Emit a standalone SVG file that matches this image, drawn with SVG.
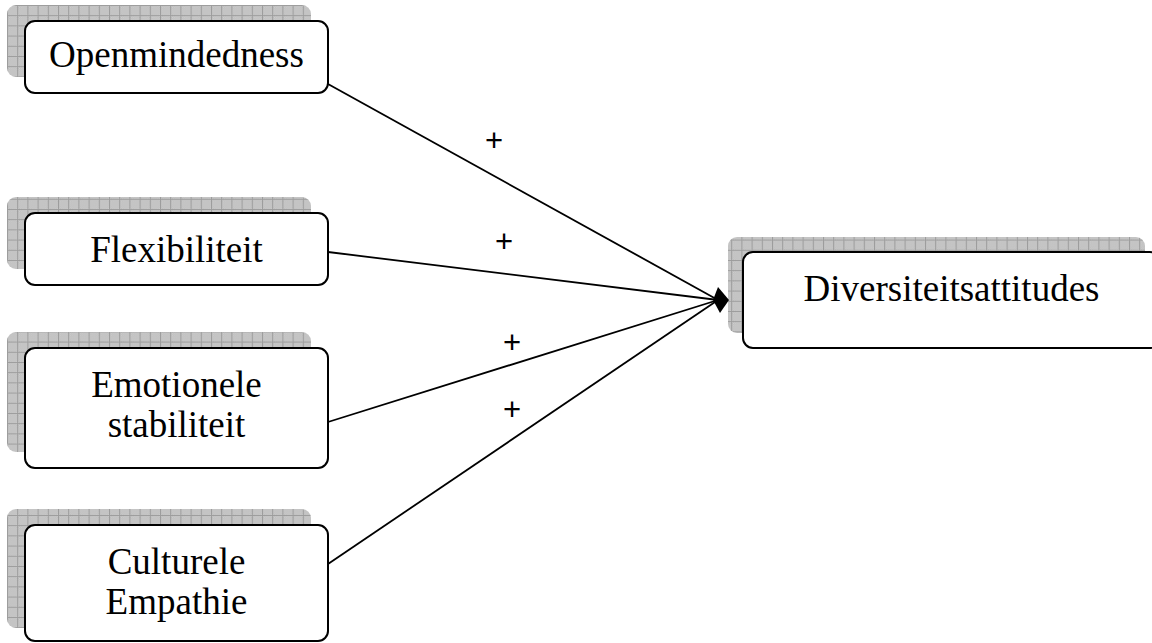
<svg xmlns="http://www.w3.org/2000/svg" width="1152" height="643" viewBox="0 0 1152 643">
<defs>
<pattern id="dots" x="0" y="0" width="2" height="2" patternUnits="userSpaceOnUse">
<rect width="2" height="2" fill="#bababa"/>
<rect width="1" height="1" fill="#cfcfcf"/>
<rect x="1" y="1" width="1" height="1" fill="#cfcfcf"/>
</pattern>
<pattern id="grid" x="7" y="5" width="10.2" height="10.2" patternUnits="userSpaceOnUse">
<rect width="10.2" height="10.2" fill="url(#dots)"/>
<path d="M0.5 0V10.2M0 0.5H10.2" stroke="#9c9c9c" stroke-width="1" fill="none"/>
</pattern>
<style>
.shadow{fill:url(#grid);stroke:none}
.box{fill:#ffffff;stroke:#000000;stroke-width:2}
.lbl{font-family:"Liberation Serif","Times New Roman",serif;font-size:37px;fill:#000000;text-anchor:middle}
.plus{font-family:"Liberation Sans",Arial,sans-serif;font-size:31px;fill:#000000;text-anchor:middle}
.conn{stroke:#000000;stroke-width:1.8;fill:none}
</style>
</defs>
<rect width="1152" height="643" fill="#ffffff"/>
<g id="node-openmindedness">
<rect class="shadow" x="7" y="5" width="304" height="72" rx="9"/>
<rect class="box" x="25" y="21" width="303" height="72" rx="10"/>
<text class="lbl" x="176.5" y="67">Openmindedness</text>
</g>
<g id="node-flexibiliteit">
<rect class="shadow" x="7" y="197" width="304" height="72" rx="9"/>
<rect class="box" x="25" y="213" width="303" height="72" rx="10"/>
<text class="lbl" x="176.5" y="262">Flexibiliteit</text>
</g>
<g id="node-emotionele">
<rect class="shadow" x="7" y="332" width="304" height="120" rx="9"/>
<rect class="box" x="25" y="348" width="303" height="120" rx="10"/>
<text class="lbl" x="176.5" y="397">Emotionele</text>
<text class="lbl" x="176.5" y="437">stabiliteit</text>
</g>
<g id="node-culturele">
<rect class="shadow" x="7" y="509" width="304" height="119" rx="9"/>
<rect class="box" x="25" y="525" width="303" height="116" rx="10"/>
<text class="lbl" x="176.5" y="574">Culturele</text>
<text class="lbl" x="176.5" y="614">Empathie</text>
</g>
<g id="node-diversiteitsattitudes">
<rect class="shadow" x="728" y="237" width="417" height="96" rx="9"/>
<rect class="box" x="743" y="252" width="417" height="96" rx="10"/>
<text class="lbl" x="951.5" y="301">Diversiteitsattitudes</text>
</g>
<g id="connectors">
<line class="conn" x1="328" y1="84" x2="718" y2="300"/>
<line class="conn" x1="328" y1="252" x2="718" y2="300"/>
<line class="conn" x1="328" y1="422" x2="718" y2="300"/>
<line class="conn" x1="328" y1="564" x2="718" y2="300"/>
<polygon points="718,287 729,300 720,313 713,300" fill="#000000"/>
<text class="plus" x="494" y="151">+</text>
<text class="plus" x="504" y="252">+</text>
<text class="plus" x="512" y="353">+</text>
<text class="plus" x="512" y="420">+</text>
</g>
</svg>
